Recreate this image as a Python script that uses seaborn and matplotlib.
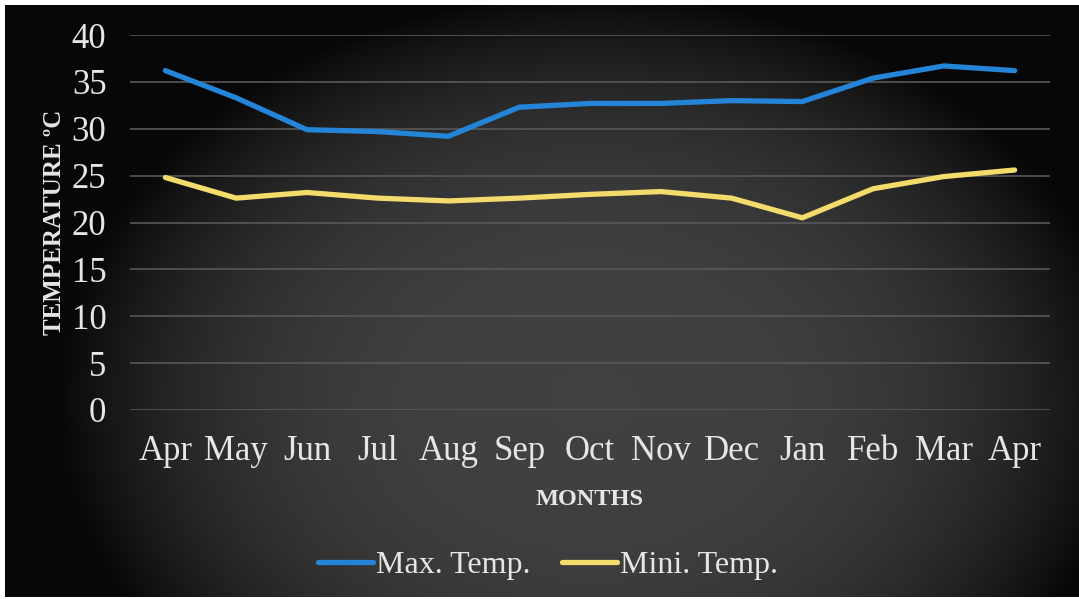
import numpy as np
import pandas as pd
import matplotlib
matplotlib.use("Agg")
import matplotlib.pyplot as plt
import seaborn as sns
from matplotlib.lines import Line2D

months = ["Apr", "May", "Jun", "Jul", "Aug", "Sep", "Oct", "Nov", "Dec", "Jan", "Feb", "Mar", "Apr"]
max_temp = [36.2, 33.3, 29.9, 29.7, 29.2, 32.3, 32.7, 32.7, 33.0, 32.9, 35.4, 36.7, 36.2]
min_temp = [24.8, 22.6, 23.2, 22.6, 22.3, 22.6, 23.0, 23.3, 22.6, 20.5, 23.6, 24.9, 25.6]
series_names = ["Max. Temp.", "Mini. Temp."]
yticks = [0, 5, 10, 15, 20, 25, 30, 35, 40]

n = len(months)
df = pd.DataFrame({
    "pos": list(range(n)) * 2,
    "temp": max_temp + min_temp,
    "series": [series_names[0]] * n + [series_names[1]] * n,
})

sns.set_theme(style="dark")
plt.rcParams["font.family"] = ["Liberation Serif", "DejaVu Serif"]
txt = "#e6e6e6"

W, H = 1079, 599
fig = plt.figure(figsize=(W / 100, H / 100), dpi=100)
fig.patch.set_facecolor("white")

# dark vignette background
bg = fig.add_axes([5 / W, 2 / H, 1 - 5 / W, 1 - 7 / H])
yy, xx = np.mgrid[0:H, 0:W]
r = np.sqrt(((xx - 590) / 560.0) ** 2 + ((yy - 400) / 430.0) ** 2)
val = np.clip(0.255 * (1 - r ** 3), 0.03, 1)
bg.imshow(np.dstack([val, val, val]), aspect="auto", extent=[0, 1, 0, 1], origin="upper")
bg.set_axis_off()

ax = fig.add_axes([130 / W, 1 - 410 / H, 920 / W, 375 / H])
ax.set_facecolor("none")
palette = {series_names[0]: "#2485d8", series_names[1]: "#f3dc6c"}
sns.lineplot(data=df, x="pos", y="temp", hue="series", palette=palette,
             linewidth=3.8, ax=ax, legend=False)

ax.set_xlim(-0.5, n - 0.5)
ax.set_ylim(0, 40)
ax.set_yticks(yticks)
ax.set_yticklabels([str(t) for t in yticks], fontsize=25, color=txt)
ax.set_xticks(range(n))
ax.set_xticklabels(months, fontsize=25, color=txt)
ax.tick_params(axis="both", length=0)
ax.tick_params(axis="x", pad=18)
ax.tick_params(axis="y", pad=17)
ax.grid(axis="y", color="#585858", linewidth=1.2)
ax.grid(axis="x", visible=False)
for s in ax.spines.values():
    s.set_visible(False)

ax.set_xlabel("MONTHS", fontsize=17.5, fontweight="bold", color=txt, labelpad=15)
ax.set_ylabel("TEMPERATURE ºC", fontsize=18, fontweight="bold", color=txt, labelpad=4)

handles = [Line2D([], [], color=palette[s], linewidth=3.8) for s in series_names]
leg = fig.legend(handles, series_names, loc="center", bbox_to_anchor=(548 / W, 1 - 565 / H),
                 ncol=2, frameon=False, fontsize=23, handlelength=1.7, handletextpad=0.1,
                 columnspacing=1.0)
for t in leg.get_texts():
    t.set_color(txt)

fig.savefig("out.png", dpi=100, facecolor=fig.get_facecolor())
